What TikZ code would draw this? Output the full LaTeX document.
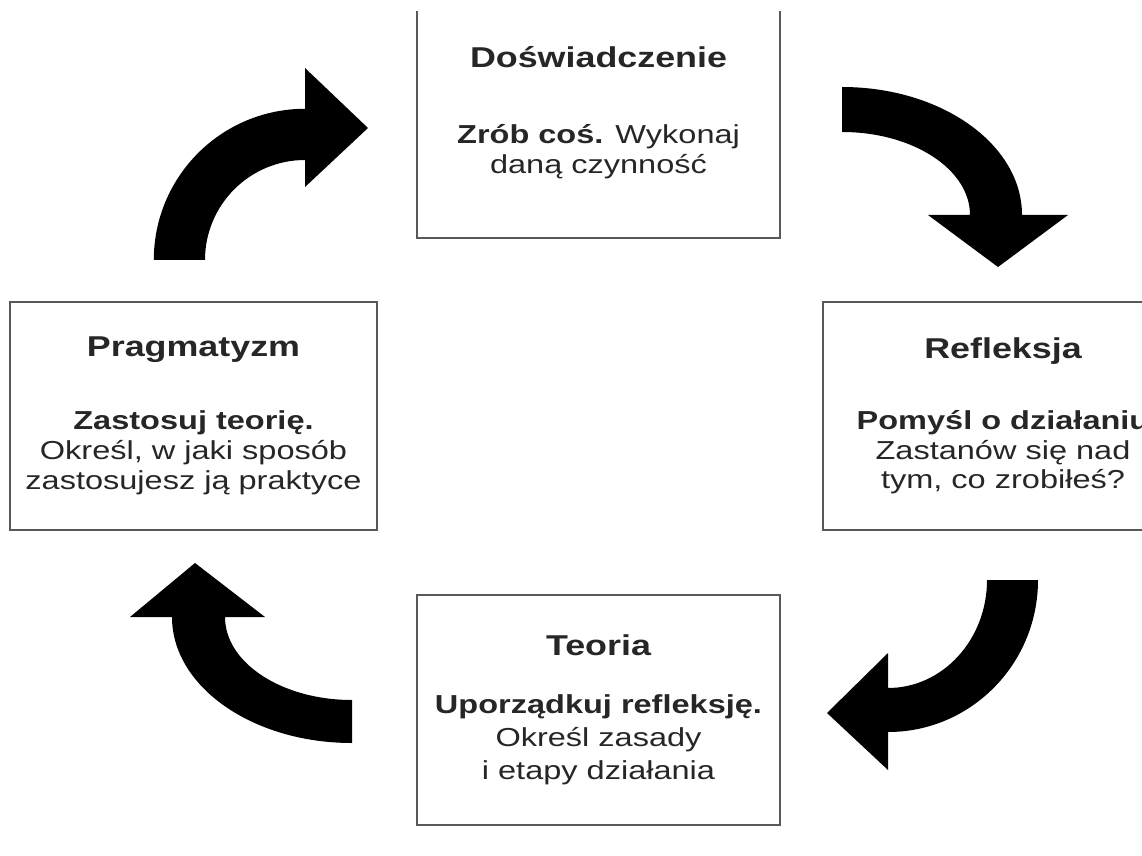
\documentclass[tikz,border=0pt]{standalone}
\usepackage{fontspec}
\setmainfont{Liberation Sans}[FakeStretch=1.25]
\usepackage{tikz}
\usepackage{xcolor}
\usetikzlibrary{positioning}
\newcommand{\tytul}[1]{{\fontsize{20.4}{24}\selectfont\bfseries #1}}

\begin{document}
\begin{tikzpicture}[
    etap/.style={draw=black!65, line width=1.4pt, rectangle, align=center,
        text=black!85, font=\fontsize{18.5}{21.3}\selectfont},
    strzalka/.style={fill=black}
  ]
    \useasboundingbox (0,0) rectangle (28.55,21.375);
    \clip (0,0) rectangle (28.55,21.075);

    % Boxes of the cycle
    \node[etap, minimum width=9.075cm, minimum height=6.25cm] (dosw) at (14.9625,18.55)
        {\tytul{Doświadczenie}\\[33pt]
         {\bfseries Zrób coś.} Wykonaj\\ daną czynność};
    \node[etap, minimum width=9cm, minimum height=5.7cm] (refl) at (25.075,10.975)
        {\tytul{Refleksja}\\[29pt]
         {\bfseries Pomyśl o działaniu}\\ Zastanów się nad\\ tym, co zrobiłeś?};
    \node[etap, minimum width=9.075cm, minimum height=5.75cm] (teor) at (14.9625,3.625)
        {\tytul{Teoria}\\[20pt]
         {\bfseries Uporządkuj refleksję.}\\[2pt] Określ zasady\\[2pt] i etapy działania};
    \node[etap, minimum width=9.175cm, minimum height=5.7cm] (prag) at (4.8375,10.975)
        {\tytul{Pragmatyzm}\\[31pt]
         {\bfseries Zastosuj teorię.}\\ Określ, w jaki sposób\\ zastosujesz ją praktyce};

    % Curved block arrows
    % Pragmatyzm -> Doswiadczenie
    \fill[strzalka] (3.845,14.875) arc[start angle=180, end angle=90, radius=3.78]
        -- (7.625,19.675) -- (9.2,18.175) -- (7.625,16.7) -- (7.625,17.375)
        arc[start angle=90, end angle=180, radius=2.5] -- cycle;
    % Doswiadczenie -> Refleksja
    \fill[strzalka] (21.05,19.2) arc[start angle=90, end angle=0, x radius=4.5, y radius=3.2]
        -- (26.7,16.0) -- (24.95,14.7) -- (23.2,16.0) -- (24.25,16.0)
        arc[start angle=0, end angle=90, x radius=3.2, y radius=2.075] -- cycle;
    % Refleksja -> Teoria
    \fill[strzalka] (25.95,6.875) arc[start angle=0, end angle=-90, x radius=3.75, y radius=3.8]
        -- (22.2,2.125) -- (20.675,3.55) -- (22.2,5.05) -- (22.2,4.175)
        arc[start angle=-90, end angle=0, x radius=2.475, y radius=2.7] -- cycle;
    % Teoria -> Pragmatyzm
    \fill[strzalka] (8.8,2.8) arc[start angle=-90, end angle=-180, x radius=4.5, y radius=3.15]
        -- (3.25,5.95) -- (4.875,7.3) -- (6.625,5.95) -- (5.625,5.95)
        arc[start angle=180, end angle=270, x radius=3.175, y radius=2.075] -- cycle;
\end{tikzpicture}
\end{document}
